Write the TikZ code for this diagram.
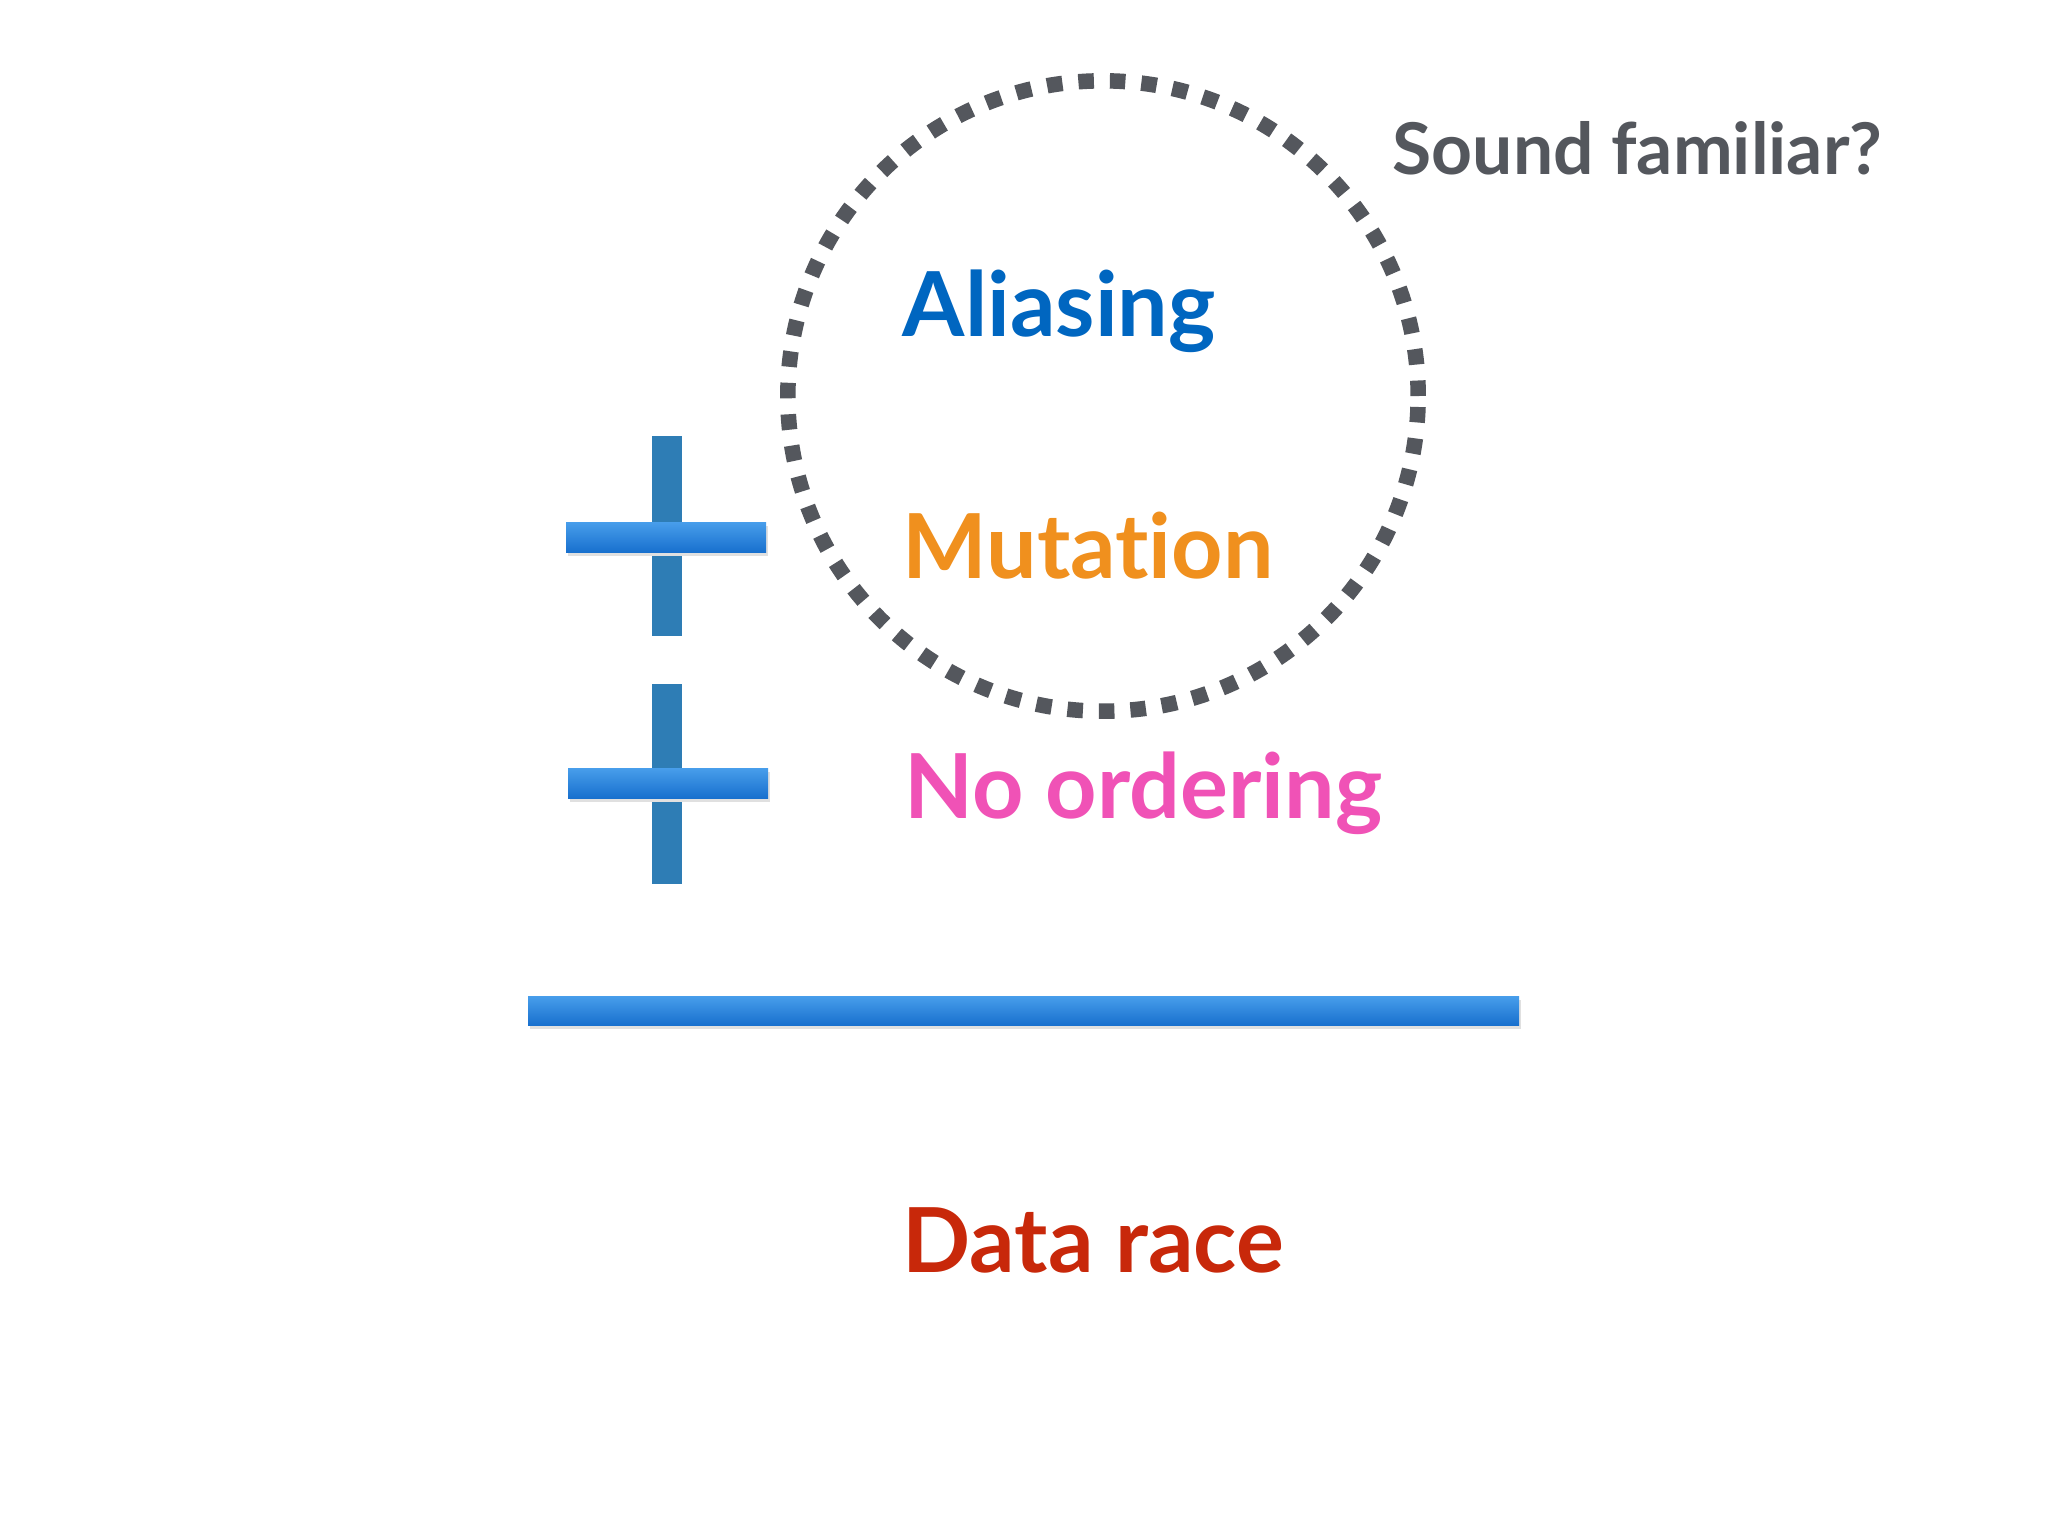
\documentclass[tikz,border=0pt]{standalone}
\usepackage{fontspec}
\setmainfont{Lato}[Ligatures={NoCommon}]
\usepackage{xcolor}
\usepackage{tikz}
\usetikzlibrary{shapes.geometric, positioning}

\definecolor{aliasblue}{RGB}{0,102,192}
\definecolor{mutorange}{RGB}{240,144,30}
\definecolor{orderpink}{RGB}{240,82,182}
\definecolor{racered}{RGB}{200,40,10}
\definecolor{ringgray}{RGB}{84,87,93}
\definecolor{plusdark}{RGB}{46,125,181}
\definecolor{barlight}{RGB}{72,158,235}
\definecolor{bardark}{RGB}{24,112,206}

\begin{document}
\begin{tikzpicture}[
    x=0.01cm, y=-0.01cm,
    term/.style={anchor=base west, inner sep=0pt, font=\fontsize{25.5}{30}\selectfont\bfseries},
    vbar/.style={fill=plusdark, draw=none},
    hbar/.style={top color=barlight, bottom color=bardark, draw=none},
    shadow/.style={fill=black!12, draw=none},
    ring/.style={circle, draw=ringgray, line width=0.155cm, dash pattern=on 0.155cm off 0.16cm, minimum size=6.30cm, inner sep=0pt}
]
    \useasboundingbox [fill=white] (0,0) rectangle (2048,1536);

    % Dotted ring round the first two terms
    \node (ring) [ring] at (1103,396) {};
    \node (ask) [anchor=base west, inner sep=0pt, text=ringgray, font=\fontsize{20.3}{25}\selectfont\bfseries] at (1392,174) {Sound familiar?};

    % Terms
    \node (alias) [term, text=aliasblue] at (902,336) {Aliasing};
    \node (mut) [term, text=mutorange] at (902,578) {Mutation};
    \node (order) [term, text=orderpink] at (904,818) {No ordering};
    \node (race) [term, text=racered] at (902,1272) {Data race};

    % Plus signs
    \fill [vbar] (652,436) rectangle (682,636);
    \fill [shadow] (568,526) rectangle (768,556);
    \fill [hbar] (566,522) rectangle (766,552);
    \fill [vbar] (652,684) rectangle (682,884);
    \fill [shadow] (570,772) rectangle (770,802);
    \fill [hbar] (568,768) rectangle (768,798);

    % Sum line
    \fill [shadow] (530,1000) rectangle (1521,1029);
    \fill [hbar] (528,996) rectangle (1519,1025);
\end{tikzpicture}
\end{document}
